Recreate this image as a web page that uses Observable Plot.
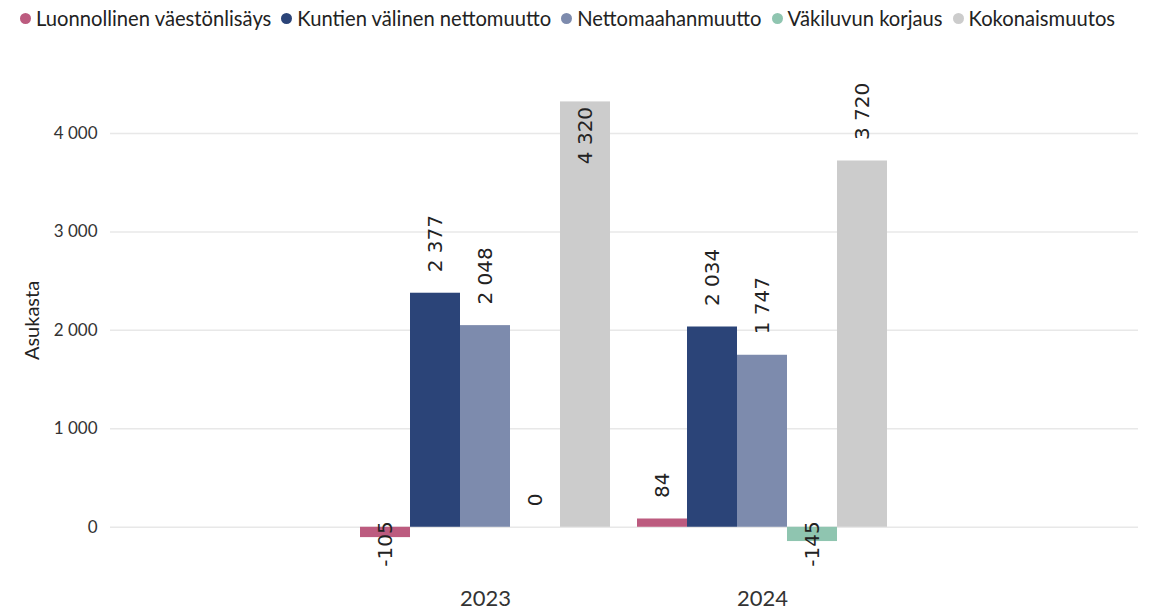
<!DOCTYPE html>
<html>
<head>
<meta charset="utf-8">
<script src="https://cdn.jsdelivr.net/npm/d3@7"></script>
<script src="https://cdn.jsdelivr.net/npm/@observablehq/plot@0.6"></script>
<style>
  html, body { margin: 0; padding: 0; background: #fff; }
  #legend { height: 40px; display: flex; align-items: center; padding-left: 20px; box-sizing: border-box;
    font-family: Lato, sans-serif; font-size: 20.2px; color: #222; white-space: nowrap; padding-bottom: 4px; }
  .item { display: flex; align-items: center; margin-right: 10px; }
  .dot { width: 11px; height: 11px; border-radius: 50%; margin-right: 5px; }
  #chart { position: relative; width: 1150px; height: 572px; }
  #chart svg { position: absolute; left: 0; top: 0; }
</style>
</head>
<body>
<div id="legend"></div>
<div id="chart"></div>
<script>
const years = [2023, 2024];
const series = ["Luonnollinen väestönlisäys", "Kuntien välinen nettomuutto", "Nettomaahanmuutto", "Väkiluvun korjaus", "Kokonaismuutos"];
const colors = ["#bc5b7f", "#2b4478", "#7d8bad", "#8fc5b0", "#cccccc"];
const values2023 = [-105, 2377, 2048, 0, 4320];
const values2024 = [84, 2034, 1747, -145, 3720];
const yTicks = [0, 1000, 2000, 3000, 4000];
const yLabel = "Asukasta";

const valuesByYear = [values2023, values2024];
const data = years.flatMap((yr, i) => series.map((s, j) => ({year: yr, series: s, value: valuesByYear[i][j]})));

const fmt = d3.formatLocale({decimal: ",", thousands: " ", grouping: [3], currency: ["", " €"], minus: "-"}).format(",d");

// legend
const legend = document.getElementById("legend");
series.forEach((s, i) => {
  const it = document.createElement("div");
  it.className = "item";
  const dot = document.createElement("span");
  dot.className = "dot";
  dot.style.background = colors[i];
  const t = document.createElement("span");
  t.textContent = s;
  it.appendChild(dot); it.appendChild(t);
  legend.appendChild(it);
});

const yDomain = [-500, 4700];
const labelRoom = 820; // value units a rotated label needs above its bar
const inside = data.filter(d => d.value >= 0 && d.value + labelRoom > yDomain[1]);
const pos = data.filter(d => d.value >= 0 && d.value + labelRoom <= yDomain[1]);
const neg = data.filter(d => d.value < 0);

const common = {
  width: 1150,
  height: 572,
  marginLeft: 110,
  marginRight: 12,
  marginTop: 24,
  marginBottom: 36,
  y: {domain: yDomain, axis: null}
};

// background layer: gridlines, y tick labels, y label
const back = Plot.plot({
  ...common,
  style: {fontFamily: "Lato, sans-serif", background: "white", color: "#333"},
  marks: [
    Plot.ruleY(yTicks, {y: d => d, stroke: "#e8e8e8", strokeWidth: 1.5}),
    Plot.text(yTicks, {y: d => d, text: d => fmt(d), frameAnchor: "left", textAnchor: "end", dx: -13, fontSize: 17, fill: "#333"}),
    Plot.text([yLabel], {text: d => d, frameAnchor: "left", textAnchor: "middle", rotate: -90, dx: -78, fontSize: 20, letterSpacing: 0.6, fill: "#222"})
  ]
});

const labelStyle = {fx: "year", x: "series", text: d => fmt(d.value), rotate: -90, fontSize: 20, fontFamily: "DejaVu Sans", fill: "#222"};

// foreground layer: faceted bars and labels
const front = Plot.plot({
  ...common,
  style: {fontFamily: "Lato, sans-serif", background: "transparent", color: "#333"},
  fx: {domain: years, paddingInner: 0.09, paddingOuter: 0.9, label: null},
  x: {domain: series, axis: null, padding: 0},
  color: {domain: series, range: colors},
  marks: [
    Plot.barY(data, {fx: "year", x: "series", y: "value", fill: "series"}),
    Plot.text(pos, {...labelStyle, y: "value", textAnchor: "start", dy: -21}),
    Plot.text(inside, {...labelStyle, y: "value", textAnchor: "end", dy: 5}),
    Plot.text(neg, {...labelStyle, y: () => 0, textAnchor: "end", dy: -6}),
    Plot.axisFx({anchor: "bottom", tickSize: 0, tickPadding: 14, fontSize: 22, label: null, fill: "#333", tickFormat: d => String(d)})
  ]
});
const c = document.getElementById("chart");
c.appendChild(back);
c.appendChild(front);
</script>
</body>
</html>
